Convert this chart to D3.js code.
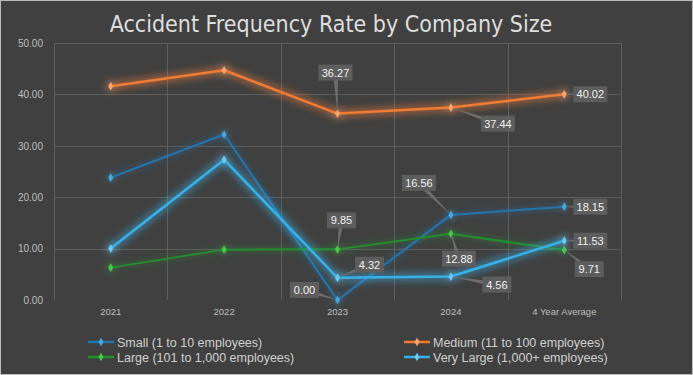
<!DOCTYPE html>
<html>
<head>
<meta charset="utf-8">
<script src="https://cdn.jsdelivr.net/npm/d3@7"></script>
<style>
  html, body { margin: 0; padding: 0; background: #404040; }
  svg { display: block; }
</style>
</head>
<body>
<svg id="chart" width="693" height="375"></svg>
<script>
const categories = ["2021", "2022", "2023", "2024", "4 Year Average"];
const small = [23.8, 32.2, 0.00, 16.56, 18.15];
const medium = [41.6, 44.7, 36.27, 37.44, 40.02];
const large = [6.3, 9.8, 9.85, 12.88, 9.71];
const veryLarge = [10.0, 27.3, 4.32, 4.56, 11.53];
const yTicks = [0, 10, 20, 30, 40, 50];

const seriesNames = [
  "Small (1 to 10 employees)",
  "Medium (11 to 100 employees)",
  "Large (101 to 1,000 employees)",
  "Very Large (1,000+ employees)"
];

// which points carry a callout label, and where the box sits relative to the point
const callouts = [
  { s: 1, i: 2, dx: -2, dy: -41 },
  { s: 1, i: 3, dx: 47, dy: 16 },
  { s: 1, i: 4, dx: 26, dy: 0 },
  { s: 2, i: 2, dx: 4, dy: -29 },
  { s: 3, i: 2, dx: 32, dy: -13 },
  { s: 0, i: 2, dx: -33, dy: -10 },
  { s: 0, i: 3, dx: -32, dy: -32 },
  { s: 2, i: 3, dx: 8, dy: 25 },
  { s: 3, i: 3, dx: 46, dy: 8 },
  { s: 0, i: 4, dx: 26, dy: 0 },
  { s: 3, i: 4, dx: 26, dy: 0 },
  { s: 2, i: 4, dx: 25, dy: 19 }
];

const series = [
  { name: seriesNames[0], values: small, line: "#2575ad", marker: "#4aa8e0", width: 2, glow: 0.55, blur: 3.5 },
  { name: seriesNames[1], values: medium, line: "#f07b35", marker: "#f7a76e", width: 2.5, glow: 1, blur: 4 },
  { name: seriesNames[2], values: large, line: "#23902f", marker: "#46c94c", width: 2, glow: 0.55, blur: 3.5 },
  { name: seriesNames[3], values: veryLarge, line: "#38b0e8", marker: "#6ccaf5", width: 2.5, glow: 1, blur: 4 }
];

const svg = d3.select("#chart");
const width = +svg.attr("width");
const height = +svg.attr("height");
const font = "'Liberation Sans', Arial, sans-serif";

svg.append("rect")
  .attr("x", 0.5).attr("y", 0.5)
  .attr("width", width - 1).attr("height", height - 1)
  .attr("fill", "#404040")
  .attr("stroke", "#bdbdbd");

const defs = svg.append("defs");
series.forEach((s, k) => {
  const f = defs.append("filter")
    .attr("id", "glow" + k)
    .attr("x", "-20%").attr("y", "-50%")
    .attr("width", "140%").attr("height", "200%");
  f.append("feGaussianBlur").attr("in", "SourceGraphic").attr("stdDeviation", s.blur).attr("result", "b");
  f.append("feComponentTransfer").attr("in", "b").attr("result", "b2")
    .append("feFuncA").attr("type", "linear").attr("slope", s.glow * 1.6);
  const m = f.append("feMerge");
  m.append("feMergeNode").attr("in", "b2");
  m.append("feMergeNode").attr("in", "SourceGraphic");
});

const x = d3.scaleBand().domain(categories).range([54, 621]).paddingInner(0).paddingOuter(0);
const y = d3.scaleLinear().domain([0, 50]).range([300, 43]);
const cx = c => x(c) + x.bandwidth() / 2;

// title
svg.append("text")
  .attr("x", 331).attr("y", 32)
  .attr("text-anchor", "middle")
  .attr("fill", "#dedede")
  .style("font-family", "'Liberation Sans Narrow', 'DejaVu Sans Condensed', sans-serif")
  .style("font-size", "23px")
  .text("Accident Frequency Rate by Company Size");

// gridlines
const grid = svg.append("g").attr("stroke", "#5e5e5e").attr("stroke-width", 1);
grid.selectAll("line.h")
  .data(yTicks.filter(t => t > 0))
  .join("line")
  .attr("class", "h")
  .attr("x1", 54).attr("x2", 621)
  .attr("y1", d => Math.round(y(d)) + 0.5)
  .attr("y2", d => Math.round(y(d)) + 0.5);
grid.selectAll("line.v")
  .data(categories.map(c => x(c)).concat([x.range()[1]]))
  .join("line")
  .attr("class", "v")
  .attr("x1", d => Math.round(d) + 0.5).attr("x2", d => Math.round(d) + 0.5)
  .attr("y1", y(50)).attr("y2", y(0));

// y axis labels
const yAxis = svg.append("g")
  .attr("transform", "translate(43,0)")
  .call(d3.axisLeft(y).tickValues(yTicks).tickFormat(d3.format(".2f")).tickSize(0).tickPadding(0));
yAxis.select(".domain").remove();
yAxis.selectAll("text")
  .attr("fill", "#bfbfbf")
  .style("font-family", font)
  .style("font-size", "10px");

// x axis labels
const xAxis = svg.append("g")
  .attr("transform", "translate(0,308)")
  .call(d3.axisBottom(x).tickSize(0).tickPadding(0));
xAxis.select(".domain").remove();
xAxis.selectAll("text")
  .attr("fill", "#bfbfbf")
  .style("font-family", font)
  .style("font-size", "9.5px");

// lines and markers
const line = d3.line().x((d, i) => cx(categories[i])).y(d => y(d));
const diamond = d3.symbol().type(d3.symbolDiamond).size(22);

series.forEach((s, k) => {
  const g = svg.append("g").attr("filter", `url(#glow${k})`);
  g.append("path")
    .datum(s.values)
    .attr("d", line)
    .attr("fill", "none")
    .attr("stroke", s.line)
    .attr("stroke-width", s.width)
    .attr("stroke-linejoin", "round");
  g.selectAll("path.m")
    .data(s.values)
    .join("path")
    .attr("class", "m")
    .attr("transform", (d, i) => `translate(${cx(categories[i])},${y(d)})`)
    .attr("d", diamond)
    .attr("fill", s.marker);
});

// callout labels
const labels = svg.append("g");
callouts.forEach(c => {
  const v = series[c.s].values[c.i];
  const px = cx(categories[c.i]);
  const py = y(v);
  const bx = px + c.dx;
  const by = py + c.dy;
  const txt = d3.format(".2f")(v);
  const w = txt.length > 4 ? 34 : 29;
  const h = 16;
  const g = labels.append("g");
  // leader wedge
  const ang = Math.atan2(by - py, bx - px) + Math.PI / 2;
  const hw = 2.5;
  g.append("path")
    .attr("d", `M${px},${py}L${bx + Math.cos(ang) * hw},${by + Math.sin(ang) * hw}L${bx - Math.cos(ang) * hw},${by - Math.sin(ang) * hw}Z`)
    .attr("fill", "#6e6e6e");
  g.append("rect")
    .attr("x", bx - w / 2).attr("y", by - h / 2)
    .attr("width", w).attr("height", h)
    .attr("fill", "#5d5d5d");
  g.append("text")
    .attr("x", bx).attr("y", by + 4)
    .attr("text-anchor", "middle")
    .attr("fill", "#f2f2f2")
    .style("font-family", font)
    .style("font-size", "11px")
    .text(txt);
});

// legend
const legendPos = [[88, 342], [404, 342], [88, 357], [404, 357]];
series.forEach((s, k) => {
  const [lx, ly] = legendPos[k];
  const g = svg.append("g").attr("transform", `translate(${lx},${ly})`);
  g.append("line")
    .attr("x1", 0).attr("x2", 26).attr("y1", 0).attr("y2", 0)
    .attr("stroke", s.line).attr("stroke-width", 2.5);
  g.append("path")
    .attr("transform", "translate(13,0)")
    .attr("d", diamond)
    .attr("fill", s.marker);
  g.append("text")
    .attr("x", 29).attr("y", 4.5)
    .attr("fill", "#d0d0d0")
    .style("font-family", font)
    .style("font-size", "12.5px")
    .text(s.name);
});
</script>
</body>
</html>
